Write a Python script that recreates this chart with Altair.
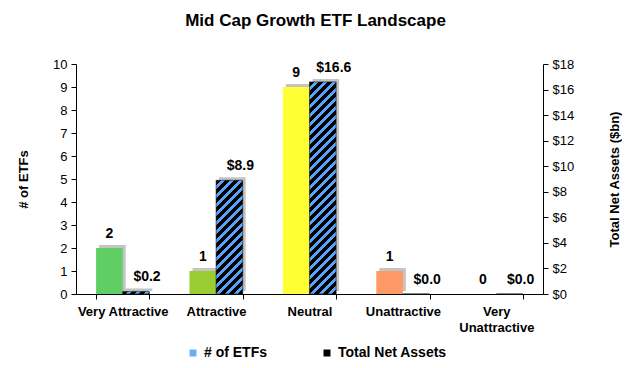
import altair as alt
import pandas as pd

# ---------------- data ----------------
categories = ["Very Attractive", "Attractive", "Neutral", "Unattractive", "Very Unattractive"]
etf_counts = [2, 1, 9, 1, 0]
net_assets = [0.2, 8.9, 16.6, 0.0, 0.0]
series_names = ["# of ETFs", "Total Net Assets"]
count_ticks = list(range(0, 11))
asset_ticks = list(range(0, 19, 2))

# ---------------- layout / style ----------------
W, H = 467, 230
PAD_IN, PAD_OUT = 0.43, 0.215
COUNT_MAX, ASSET_MAX = 10, 18
FONT = "Liberation Sans"
bar_colors = ["#5fcf63", "#9acd32", "#ffff33", "#ff9966", "#a6a6a6"]
series_colors = ["#6aaef5", "#000000"]
STRIPE_DARK, STRIPE_LIGHT = "#000000", "#55a5ff"
STRIPE_PERIOD = 9.0
STRIPE_DARK_FRAC = 0.62
SHADOW = "#c4c4c4"
SH = 3  # shadow offset in px

count_df = pd.DataFrame({"category": categories, "value": etf_counts})
net_df = pd.DataFrame({"category": categories, "value": net_assets})
legend_df = pd.DataFrame({"series": series_names})

step = W / (len(categories) - PAD_IN + 2 * PAD_OUT)
sub_w = step * (1 - PAD_IN) / 2


def hatch_fill(value):
    """Diagonal stripe fill built as a hard-stop linear gradient (45 degrees in pixels)."""
    w = sub_w
    h = value / ASSET_MAX * H
    if h < 2:
        return STRIPE_DARK
    s = (w + h) / (w * w + h * h)
    n = (w + h) / STRIPE_PERIOD
    stops = []
    k = 0
    while k / n < 1:
        a = k / n
        b = min((k + STRIPE_DARK_FRAC) / n, 1)
        c = min((k + 1) / n, 1)
        stops += [
            {"offset": a, "color": STRIPE_DARK},
            {"offset": b, "color": STRIPE_DARK},
            {"offset": b, "color": STRIPE_LIGHT},
            {"offset": c, "color": STRIPE_LIGHT},
        ]
        k += 1
    return {"gradient": "linear", "x1": 0, "y1": 0, "x2": w * s, "y2": h * s, "stops": stops}


x_enc = alt.X(
    "category:N",
    sort=categories,
    scale=alt.Scale(domain=categories, paddingInner=PAD_IN, paddingOuter=PAD_OUT),
    axis=alt.Axis(
        title=None, labelAngle=0, labelFontSize=13, labelFontWeight="bold",
        labelPadding=6, tickSize=5, tickBand="extent", labelLineHeight=16,
        labelBaseline="top",
        labelExpr="datum.label == 'Very Unattractive' ? ['Very', 'Unattractive'] : datum.label",
    ),
)

y_count = alt.Y(
    "value:Q",
    scale=alt.Scale(domain=[0, COUNT_MAX], nice=False),
    axis=alt.Axis(
        orient="left", values=count_ticks, tickSize=5, labelPadding=4, labelFontSize=13,
        title="# of ETFs", titleFontSize=13, titleFontWeight="bold", titleAngle=270,
        titleX=-53, titleY=H / 2, titleAlign="center", titleBaseline="middle",
    ),
)
y_net = alt.Y(
    "value:Q",
    scale=alt.Scale(domain=[0, ASSET_MAX], nice=False),
    axis=alt.Axis(
        orient="right", values=asset_ticks, tickSize=5, labelPadding=4, labelFontSize=13,
        labelExpr="'$' + datum.value",
        title="Total Net Assets ($bn)", titleFontSize=13, titleFontWeight="bold", titleAngle=270,
        titleX=71, titleY=H / 2, titleAlign="center", titleBaseline="middle",
    ),
)

L_OFF = -sub_w / 2
R_OFF = sub_w / 2

# ---------------- count group ----------------
cbase = alt.Chart(count_df).encode(x=x_enc, y=y_count)
c_shadow = cbase.mark_bar(color=SHADOW, width=sub_w, xOffset=L_OFF + SH, yOffset=-SH, y2Offset=0)
c_bars = cbase.mark_bar(width=sub_w, xOffset=L_OFF).encode(
    fill=alt.Fill("category:N", scale=alt.Scale(domain=categories, range=bar_colors), legend=None)
)
c_labels = cbase.mark_text(dx=L_OFF, dy=-14, fontSize=14, fontWeight="bold", baseline="middle", color="black").encode(
    text=alt.Text("value:Q", format="d")
)
count_group = alt.layer(c_shadow, c_bars, c_labels)

# ---------------- net assets group ----------------
nbase = alt.Chart(net_df).encode(x=x_enc, y=y_net)
n_shadow = nbase.mark_bar(color=SHADOW, width=sub_w, xOffset=R_OFF + SH, yOffset=-SH, y2Offset=0)
n_bars = [
    nbase.transform_filter(alt.datum.category == cat).mark_bar(
        width=sub_w, xOffset=R_OFF, fill=hatch_fill(val), stroke="#111111", strokeWidth=0.6
    )
    for cat, val in zip(categories, net_assets)
]
n_labels = nbase.mark_text(dy=-14, dx=R_OFF + 11, fontSize=14, fontWeight="bold", baseline="middle", color="black").encode(
    text=alt.Text("value:Q", format="$.1f")
)
net_group = alt.layer(n_shadow, *n_bars, n_labels)

# ---------------- legend ----------------
legend_layer = alt.Chart(legend_df).mark_square(opacity=0, size=49).encode(
    color=alt.Color(
        "series:N",
        scale=alt.Scale(domain=series_names, range=series_colors),
        legend=alt.Legend(
            title=None, orient="none", legendX=110, legendY=282, direction="horizontal",
            symbolType="square", symbolSize=49, symbolOpacity=1, symbolStrokeWidth=0,
            labelFontSize=14, labelFontWeight="bold", labelOffset=4, columnPadding=52,
            padding=0, labelColor="black",
        ),
    )
)

chart = (
    alt.layer(count_group, net_group, legend_layer)
    .resolve_scale(y="independent")
    .properties(
        width=W,
        height=H,
        autosize=alt.AutoSizeParams(type="none"),
        padding={"left": 68, "top": 56, "right": 79, "bottom": 66},
        title=alt.Title(
            "Mid Cap Growth ETF Landscape", fontSize=17, fontWeight="bold", anchor="middle",
            dx=6, offset=28, color="black",
        ),
    )
    .configure(font=FONT)
    .configure_view(stroke=None)
    .configure_axis(grid=False, domainColor="black", tickColor="black", labelColor="black", titleColor="black")
)

chart.save("out.html", embed_options={"renderer": "svg", "actions": False})
